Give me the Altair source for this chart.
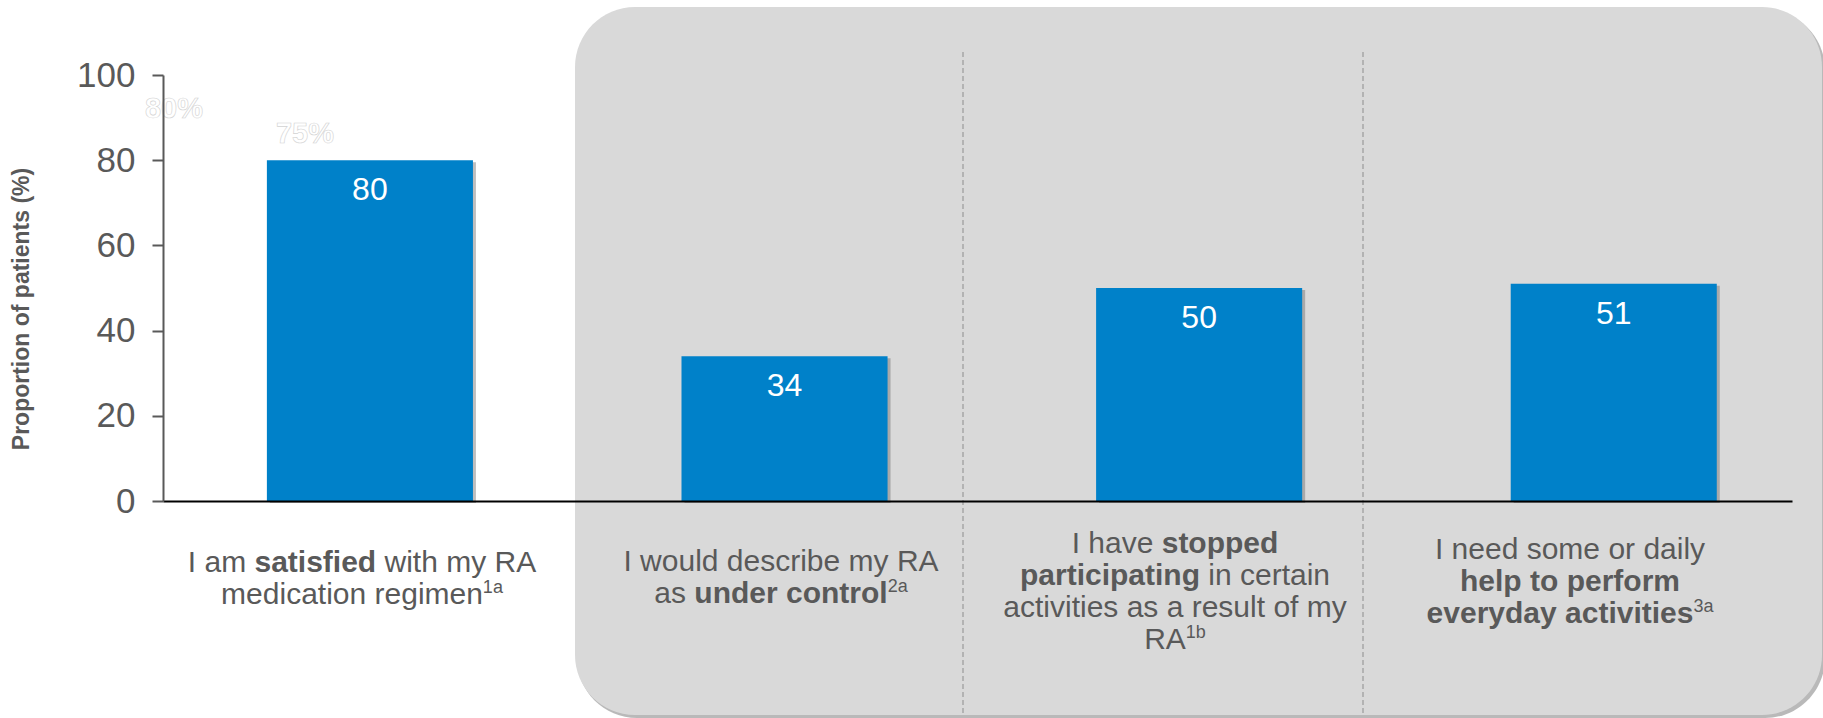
import altair as alt
import pandas as pd

# ---------------- data ----------------
categories = ["satisfied", "under control", "stopped participating", "help everyday"]
values = [80, 34, 50, 51]
y_ticks = [0, 20, 40, 60, 80, 100]
ghost_labels = ["80%", "75%"]
y_title = "Proportion of patients (%)"

# category labels: lines -> segments (text, kind)  kind: normal | bold | sup
label_lines = [
    [[("I am ", "normal"), ("satisfied", "bold"), (" with my RA", "normal")],
     [("medication regimen", "normal"), ("1a", "sup")]],
    [[("I would describe my RA", "normal")],
     [("as ", "normal"), ("under control", "bold"), ("2a", "sup")]],
    [[("I have ", "normal"), ("stopped", "bold")],
     [("participating", "bold"), (" in certain", "normal")],
     [("activities as a result of my", "normal")],
     [("RA", "normal"), ("1b", "sup")]],
    [[("I need some or daily", "normal")],
     [("help to perform", "bold")],
     [("everyday activities", "bold"), ("3a", "sup")]],
]

# ---------------- layout / style ----------------
PAD_L, PAD_T, PAD_R, PAD_B = 163, 75, 31, 217
W, H = 1823 - PAD_L - PAD_R, 718 - PAD_T - PAD_B
BLUE = "#0081C9"
GREY_TXT = "#595959"
PANEL = "#D9D9D9"
FONT = "Liberation Sans"
LBL_SIZE = 30
SUP_SIZE = 18
SUP_RISE = 11
LINE_H = 32
# label block centres / first baselines (absolute px)
LABEL_CX = [362, 781, 1175, 1570]
LABEL_Y0 = [572, 571, 553, 559]

REG = {' ': 278, 'a': 556, 'b': 556, 'c': 500, 'd': 556, 'e': 556, 'f': 278, 'g': 556, 'h': 556,
       'i': 222, 'j': 222, 'k': 500, 'l': 222, 'm': 833, 'n': 556, 'o': 556, 'p': 556, 'q': 556,
       'r': 333, 's': 500, 't': 278, 'u': 556, 'v': 500, 'w': 722, 'x': 500, 'y': 500, 'z': 500,
       'I': 278, 'R': 722, 'A': 667}
BOLD = {' ': 278, 'a': 556, 'b': 611, 'c': 556, 'd': 611, 'e': 556, 'f': 333, 'g': 611, 'h': 611,
        'i': 278, 'j': 278, 'k': 556, 'l': 278, 'm': 889, 'n': 611, 'o': 611, 'p': 611, 'q': 611,
        'r': 389, 's': 556, 't': 333, 'u': 611, 'v': 556, 'w': 778, 'x': 556, 'y': 556, 'z': 500}


def text_w(t, kind):
    tab = BOLD if kind == "bold" else REG
    size = SUP_SIZE if kind == "sup" else LBL_SIZE
    return sum(tab.get(c, 556) for c in t) * size / 1000.0


rows = []
for i, lines in enumerate(label_lines):
    for j, segs in enumerate(lines):
        total = sum(text_w(t, k) for t, k in segs)
        cur = LABEL_CX[i] - total / 2.0
        base = LABEL_Y0[i] + j * LINE_H
        for t, k in segs:
            lead = len(t) - len(t.lstrip(" "))
            x0 = cur + text_w(" " * lead, k)
            rows.append({"t": t.strip(" "), "kind": k, "sx": x0 - PAD_L,
                         "sy": base - PAD_T - (SUP_RISE if k == "sup" else 0)})
            cur += text_w(t, k)
lab_df = pd.DataFrame(rows)

bars_df = pd.DataFrame({"cat": categories, "v": values})
one = pd.DataFrame({"k": [0]})

X = alt.X("cat:N", sort=categories, title=None,
          scale=alt.Scale(paddingInner=0.503, paddingOuter=0.216, align=0.58),
          axis=alt.Axis(labels=False, ticks=False, domainColor="black", domainWidth=2, zindex=1))
Y = alt.Y("v:Q", title=None, scale=alt.Scale(domain=[0, 100]),
          axis=alt.Axis(values=y_ticks, grid=False, domainColor=GREY_TXT, domainWidth=2,
                        tickColor=GREY_TXT, tickWidth=2, tickSize=11, labelFontSize=35,
                        labelColor=GREY_TXT, labelPadding=17, labelFont=FONT, zindex=1))


def px(field):
    return alt.X(field, scale=None, axis=None)


def py(field):
    return alt.Y(field, scale=None, axis=None)


panel_shadow = alt.Chart(one).mark_rect(color="#a8a8a8", cornerRadius=60, opacity=0.8).encode(
    x=alt.value(575 - PAD_L + 2), x2=alt.value(1822 - PAD_L + 3),
    y=alt.value(7 - PAD_T + 3), y2=alt.value(715 - PAD_T + 3))
panel = alt.Chart(one).mark_rect(color=PANEL, cornerRadius=60).encode(
    x=alt.value(575 - PAD_L), x2=alt.value(1822 - PAD_L),
    y=alt.value(7 - PAD_T), y2=alt.value(715 - PAD_T))

sep_df = pd.DataFrame({"px": [963 - PAD_L, 1363 - PAD_L]})
seps = alt.Chart(sep_df).mark_rule(color="#a6a6a6", strokeWidth=1.5, strokeDash=[5, 3]).encode(
    x=px("px:Q"), y=alt.value(52 - PAD_T), y2=alt.value(713 - PAD_T))

ghost_df = pd.DataFrame({"t": ghost_labels, "gx": [174 - PAD_L, 305 - PAD_L], "gy": [109 - PAD_T, 134 - PAD_T]})
ghost = alt.Chart(ghost_df).mark_text(font=FONT, fontSize=29, fontWeight="bold", fill="white",
                                      stroke="#d2d2d2", strokeWidth=0.6, baseline="middle",
                                      align="center").encode(
    x=px("gx:Q"), y=py("gy:Q"), text="t:N")

bar_shadow = alt.Chart(bars_df).mark_bar(color="#6f6f6f", opacity=0.45, xOffset=3, yOffset=2).encode(x=X, y=Y)
bars = alt.Chart(bars_df).mark_bar(color=BLUE).encode(x=X, y=Y)
bar_txt = alt.Chart(bars_df).mark_text(color="white", font=FONT, fontSize=32, baseline="middle",
                                       dy=30).encode(x=X, y=Y, text="v:Q")

title_txt = alt.Chart(one).mark_text(text=y_title, angle=270, font=FONT, fontSize=23,
                                     fontWeight="bold", color=GREY_TXT, align="center",
                                     baseline="middle").encode(
    x=alt.value(22 - PAD_L), y=alt.value(309 - PAD_T))


def lab_layer(kind, weight, size):
    return alt.Chart(lab_df).transform_filter(alt.datum.kind == kind).mark_text(
        font=FONT, fontSize=size, fontWeight=weight, color=GREY_TXT, align="left",
        baseline="alphabetic").encode(
        x=px("sx:Q"), y=py("sy:Q"), text="t:N")


labels = alt.layer(lab_layer("normal", "normal", LBL_SIZE),
                   lab_layer("bold", "bold", LBL_SIZE),
                   lab_layer("sup", "normal", SUP_SIZE))

chart = alt.layer(panel_shadow, panel, seps, ghost, bar_shadow, bars, bar_txt, title_txt, labels).properties(
    width=W, height=H,
    padding={"left": PAD_L, "top": PAD_T, "right": PAD_R, "bottom": PAD_B},
    autosize=alt.AutoSizeParams(type="none"),
    background="white",
).configure(font=FONT).configure_view(strokeWidth=0, stroke="transparent")

chart.save("out.html", embed_options={"renderer": "svg", "actions": False})
